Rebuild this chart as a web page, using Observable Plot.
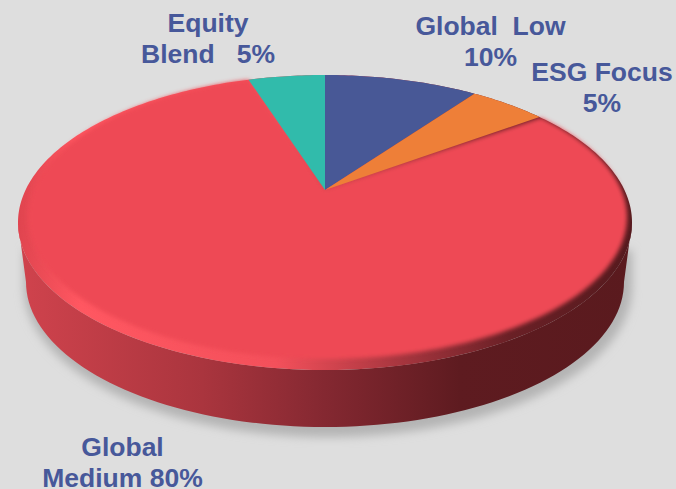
<!DOCTYPE html>
<html><head><meta charset="utf-8">
<style>html,body{margin:0;padding:0;background:#dedede;overflow:hidden}svg{display:block}</style>
<script src="https://cdn.jsdelivr.net/npm/d3@7"></script>
<script src="https://cdn.jsdelivr.net/npm/@observablehq/plot@0.6"></script>
</head><body><div id="chart"></div>
<script>
const categories = ["Global Low", "ESG Focus", "Global Medium", "Equity Blend"];
const shares = [10, 5, 80, 5];
const colors = ["#485896", "#ee7f38", "#ee4854", "#31bbab"];
const labels = ["Global  Low\n10%", "ESG Focus\n5%", "Global\nMedium 80%", "Equity\nBlend   5%"];
const labelX = [490, 601.5, 122, 207.5];
const labelY = [12, 58, 433, 9];

const apex = [325, 190];
const rim = {top: 75, bottom: 370, rxL: 307, rxR: 307};
const face = {top: 75, bottom: 359, rxL: 297, rxR: 302};

function project(share, g) {
  const c = (g.top + g.bottom - 2 * apex[1]) / (g.bottom - g.top);
  const a = g.top * c + g.top - apex[1];
  const t = share / 100 * 2 * Math.PI;
  const u = Math.sin(t), v = Math.cos(t), d = 1 + c * v;
  const A = (u < 0 ? g.rxL : g.rxR) * Math.sqrt(1 - c * c);
  return {x: apex[0] + A * u / d, y: (a * v + apex[1]) / d};
}
function wedge(from, to, g) {
  const n = Math.ceil((to - from) * 4);
  return d3.range(n + 1).map(i => project(from + (to - from) * i / n, g));
}
const ends = d3.cumsum(shares);
const slices = categories.map((name, i) => ({name, color: colors[i], from: ends[i] - shares[i], to: ends[i]}));

const upper = {cx: 325, cy: 222.5, rx: 307, ry: 147.5};
const lower = {cx: 325, cy: 282, rx: 299, ry: 145};
const around = d3.range(0, 181, 2).map(d => d * Math.PI / 180);
const sidePts = around.map(t => ({
  x1: upper.cx + upper.rx * Math.cos(t), y1: upper.cy + upper.ry * Math.sin(t),
  x2: lower.cx + lower.rx * Math.cos(t), y2: lower.cy + lower.ry * Math.sin(t)
}));
const shadowPts = around.map(t => ({
  x1: lower.cx + 3 + (lower.rx + 5) * Math.cos(t), y1: 250,
  x2: lower.cx + 3 + (lower.rx + 5) * Math.cos(t), y2: lower.cy + 5 + (lower.ry + 5) * Math.sin(t)
}));

function grad(id, stops) {
  const g = d3.create("svg:linearGradient").attr("id", id)
    .attr("gradientUnits", "userSpaceOnUse").attr("x1", 18).attr("x2", 632).attr("y1", 0).attr("y2", 0);
  stops.forEach(([o, col]) => g.append("stop").attr("offset", o).attr("stop-color", col));
  return g.node();
}
const defs = () => {
  const d = d3.create("svg:defs");
  d.append(() => grad("sideGrad", [[0, "#d0434d"], [0.3, "#aa353e"], [0.5, "#842831"], [0.72, "#5e1b20"], [1, "#5a1a1e"]]));
  d.append(() => grad("rimGrad", [[0, "#e0444f"], [0.1, "#ff5761"], [0.42, "#f4505b"], [0.62, "#a8363f"], [0.8, "#6a2026"], [1, "#551a1e"]]));
  d.append("filter").attr("id", "soft").attr("x", "-10%").attr("y", "-10%").attr("width", "120%").attr("height", "120%")
    .append("feGaussianBlur").attr("stdDeviation", 2);
  d.append("filter").attr("id", "wide").attr("x", "-10%").attr("y", "-10%").attr("width", "120%").attr("height", "120%")
    .append("feGaussianBlur").attr("stdDeviation", 5);
  return d.node();
};

const red = slices[2];
const small = slices.filter(s => s !== red);
const chart = Plot.plot({
  width: 676, height: 489, margin: 0,
  x: {domain: [0, 676], range: [0, 676], axis: null},
  y: {domain: [0, 489], range: [0, 489], axis: null},
  style: {background: "#dedede"},
  marks: [
    defs,
    Plot.area(shadowPts, {x1: "x1", y1: "y1", x2: "x2", y2: "y2", fill: "#b4b4b4"}),
    Plot.area(sidePts, {x1: "x1", y1: "y1", x2: "x2", y2: "y2", fill: "url(#sideGrad)"}),
    Plot.area(wedge(0, 100, rim), {x1: () => apex[0], y1: () => apex[1], x2: "x", y2: "y", fill: "url(#rimGrad)"}),
    Plot.area(wedge(red.from, red.to, face), {x1: () => apex[0], y1: () => apex[1], x2: "x", y2: "y", fill: red.color}),
    ...small.map(s => Plot.area(wedge(s.from, s.to, rim), {x1: () => apex[0], y1: () => apex[1], x2: "x", y2: "y", fill: s.color})),
    Plot.text(labels, {
      x: (d, i) => labelX[i], y: (d, i) => labelY[i], text: d => d,
      fontFamily: "Liberation Sans", fontWeight: "bold", fontSize: 26.5, lineHeight: 1.17,
      textAnchor: "middle", lineAnchor: "top", fill: "#47589a"
    })
  ]
});
const areas = chart.querySelectorAll('[aria-label="area"]');
areas[0].setAttribute("filter", "url(#wide)");
areas[3].setAttribute("filter", "url(#soft)");
chart.querySelector('[aria-label="text"]').style.whiteSpace = "pre";
document.getElementById("chart").append(chart);
</script></body></html>
